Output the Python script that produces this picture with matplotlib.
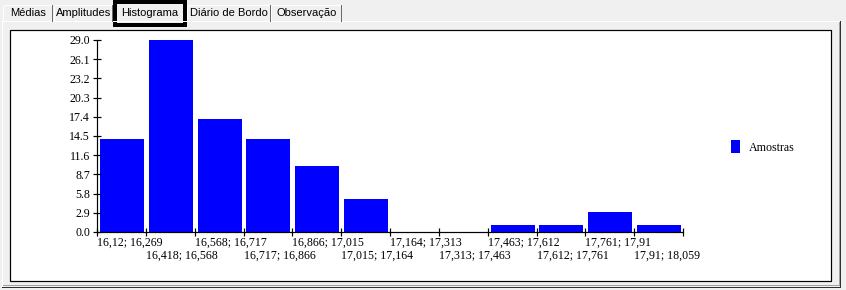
import numpy as np
import matplotlib
matplotlib.use("Agg")
import matplotlib.pyplot as plt
from matplotlib.patches import Rectangle

# dados do histograma
contagens = [14, 29, 17, 14, 10, 5, 0, 0, 1, 1, 3, 1]
rotulos_classes = [
    "16,12; 16,269", "16,418; 16,568", "16,568; 16,717", "16,717; 16,866",
    "16,866; 17,015", "17,015; 17,164", "17,164; 17,313", "17,313; 17,463",
    "17,463; 17,612", "17,612; 17,761", "17,761; 17,91", "17,91; 18,059"]
y_ticks = [0.0, 2.9, 5.8, 8.7, 11.6, 14.5, 17.4, 20.3, 23.2, 26.1, 29.0]
abas = ["Médias", "Amplitudes", "Histograma", "Diário de Bordo", "Observação"]
aba_ativa = "Histograma"
serie = "Amostras"

W, H = 846, 290
px = 0.72  # 1 pixel em pontos (dpi 100)

fig = plt.figure(figsize=(W / 100, H / 100), dpi=100)
fig.patch.set_facecolor("#F0F0F0")

# camada de fundo em coordenadas de pixel
bg = fig.add_axes([0, 0, 1, 1])
bg.set_xlim(0, W)
bg.set_ylim(H, 0)
bg.axis("off")

# painel das abas
bg.plot([2, 839], [21, 21], color="white", lw=px)
bg.plot([2, 2], [21, 286], color="white", lw=px)
bg.plot([840, 840], [21, 287], color="#303030", lw=px)
bg.plot([2, 840], [286.5, 286.5], color="#303030", lw=px)
bg.plot([3, 839], [284.5, 284.5], color="#A0A0A0", lw=px)
bg.plot([839, 839], [22, 285], color="#A0A0A0", lw=px)

# area branca do grafico
bg.add_patch(Rectangle((9.5, 29.5), 821, 251, facecolor="white",
                       edgecolor="black", lw=1.2 * px))

# abas
limites = [(3, 53), (54, 113), (113, 187), (187, 271), (271, 342)]
for nome, (x0, x1) in zip(abas, limites):
    if nome == aba_ativa:
        bg.add_patch(Rectangle((x0 + 2, 2), x1 - x0 - 4, 23,
                               facecolor="#F0F0F0", edgecolor="black",
                               lw=4 * px, clip_on=False))
    else:
        bg.plot([x0, x0], [21, 6], color="white", lw=px)
        bg.plot([x0 + 1, x1 - 1], [4.5, 4.5], color="white", lw=px)
        bg.plot([x1 - 1, x1 - 1], [5, 21], color="#696969", lw=px)
    bg.text((x0 + x1) / 2, 13.5, nome, ha="center", va="center",
            fontsize=8, family="Liberation Sans", color="black")

# eixo do histograma
x_esq, x_dir, y_base, y_topo = 97, 683, 232, 40
ax = fig.add_axes([x_esq / W, 1 - y_base / H,
                   (x_dir - x_esq) / W, (y_base - y_topo) / H])
ax.set_facecolor("none")

n = len(contagens)
pos = np.arange(n)
ax.bar(pos + 0.06, contagens, width=0.9, align="edge", color="#0000FF",
       label=serie)

ax.set_xlim(0, n)
ax.set_ylim(0, 29)
ax.set_yticks(y_ticks)
ax.set_yticklabels([f"{v:.1f}" for v in y_ticks])
ax.set_xticks(np.arange(n + 1))
ax.set_xticklabels([])

for s in ["top", "right"]:
    ax.spines[s].set_visible(False)
for s in ["left", "bottom"]:
    ax.spines[s].set_linewidth(1.2 * px)
    ax.spines[s].set_color("black")

ax.tick_params(direction="inout", length=8 * px, width=1.2 * px,
               color="black")
ax.tick_params(axis="y", pad=2.2, labelsize=8.6)
for t in ax.get_yticklabels():
    t.set_family("Liberation Serif")

# rotulos das classes em duas linhas alternadas
tr = ax.get_xaxis_transform()
for i, r in enumerate(rotulos_classes):
    y = -0.058 if i % 2 == 0 else -0.125
    ax.text(i, y, r, transform=tr, ha="left", va="center",
            fontsize=8.6, family="Liberation Serif")

fig.legend(loc="center left", bbox_to_anchor=(731 / W, 1 - 147 / H),
           frameon=False, borderpad=0, borderaxespad=0,
           handlelength=0.75, handleheight=1.25, handletextpad=0.75,
           prop={"family": "Liberation Serif", "size": 8.6})

fig.savefig("out.png", dpi=100, facecolor=fig.get_facecolor())
